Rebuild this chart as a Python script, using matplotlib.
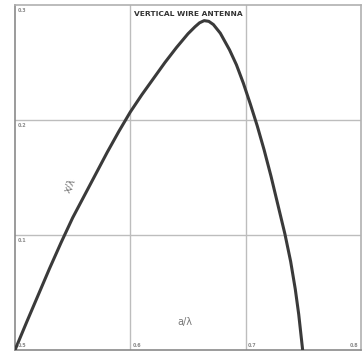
import matplotlib
matplotlib.use("Agg")
import matplotlib.pyplot as plt

# Data (a/lambda vs x/lambda)
a_vals = [0.500, 0.510, 0.520, 0.530, 0.540, 0.550, 0.560, 0.570, 0.580, 0.590,
          0.600, 0.610, 0.620, 0.630, 0.640, 0.650, 0.656, 0.660, 0.664, 0.668,
          0.672, 0.678, 0.686, 0.692, 0.698, 0.704, 0.710, 0.716, 0.722, 0.728,
          0.734, 0.739, 0.743, 0.746, 0.7494]
x_vals = [0.0000, 0.0240, 0.0475, 0.0710, 0.0935, 0.1150, 0.1340, 0.1530, 0.1720, 0.1900,
          0.2070, 0.2220, 0.2360, 0.2500, 0.2630, 0.2750, 0.2810, 0.2845, 0.2864, 0.2858,
          0.2830, 0.2755, 0.2610, 0.2480, 0.2320, 0.2140, 0.1950, 0.1740, 0.1510, 0.1260,
          0.1010, 0.0770, 0.0530, 0.0310, 0.0000]

x_ticks = [0.5, 0.6, 0.7, 0.8]
x_tick_labels = ["0.5", "0.6", "0.7", "0.8"]
y_ticks = [0.0, 0.1, 0.2, 0.3]
y_tick_labels = ["", "0.1", "0.2", "0.3"]

title = "VERTICAL WIRE ANTENNA"

W, H = 362, 354
fig = plt.figure(figsize=(W / 100, H / 100), dpi=100)
ax = fig.add_axes([15 / W, (H - 350) / H, (361 - 15) / W, (350 - 5) / H])

ax.set_xlim(0.5, 0.8)
ax.set_ylim(0.0, 0.3)

grid_c = "#bdbdbd"
for xv in x_ticks[1:-1]:
    ax.axvline(xv, color=grid_c, lw=1.0, zorder=1)
for yv in y_ticks[1:-1]:
    ax.axhline(yv, color=grid_c, lw=1.0, zorder=1)

ax.plot(a_vals, x_vals, color="#3a3a3a", lw=2.2, solid_capstyle="round",
        solid_joinstyle="round", zorder=3)

for sp in ax.spines.values():
    sp.set_color("#b0b0b0")
    sp.set_linewidth(1.2)
ax.spines["bottom"].set_color("#8a8a8a")
ax.spines["left"].set_color("#8a8a8a")

ax.set_xticks([])
ax.set_yticks([])

lab_c = "#8a8a8a"
for xv, lab in zip(x_ticks, x_tick_labels):
    ax.text(xv + 0.002 if xv < 0.8 else xv - 0.002, 0.002, lab, fontsize=3.5, color=lab_c,
            ha="left" if xv < 0.8 else "right", va="bottom", fontweight="bold")
for yv, lab in zip(y_ticks, y_tick_labels):
    if lab:
        ax.text(0.5025, yv - 0.003, lab, fontsize=3.5, color=lab_c,
                ha="left", va="top", fontweight="bold")

ax.text(0.65, 0.292, title, fontsize=5.4, color="#333333", ha="center",
        va="center", fontweight="bold")
ax.text(0.5478, 0.143, "x/λ", fontsize=7, color="#777777", rotation=65,
        ha="center", va="center")
ax.text(0.6475, 0.024, "a/λ", fontsize=7, color="#777777", ha="center", va="center")

fig.savefig("out.png", dpi=100)
